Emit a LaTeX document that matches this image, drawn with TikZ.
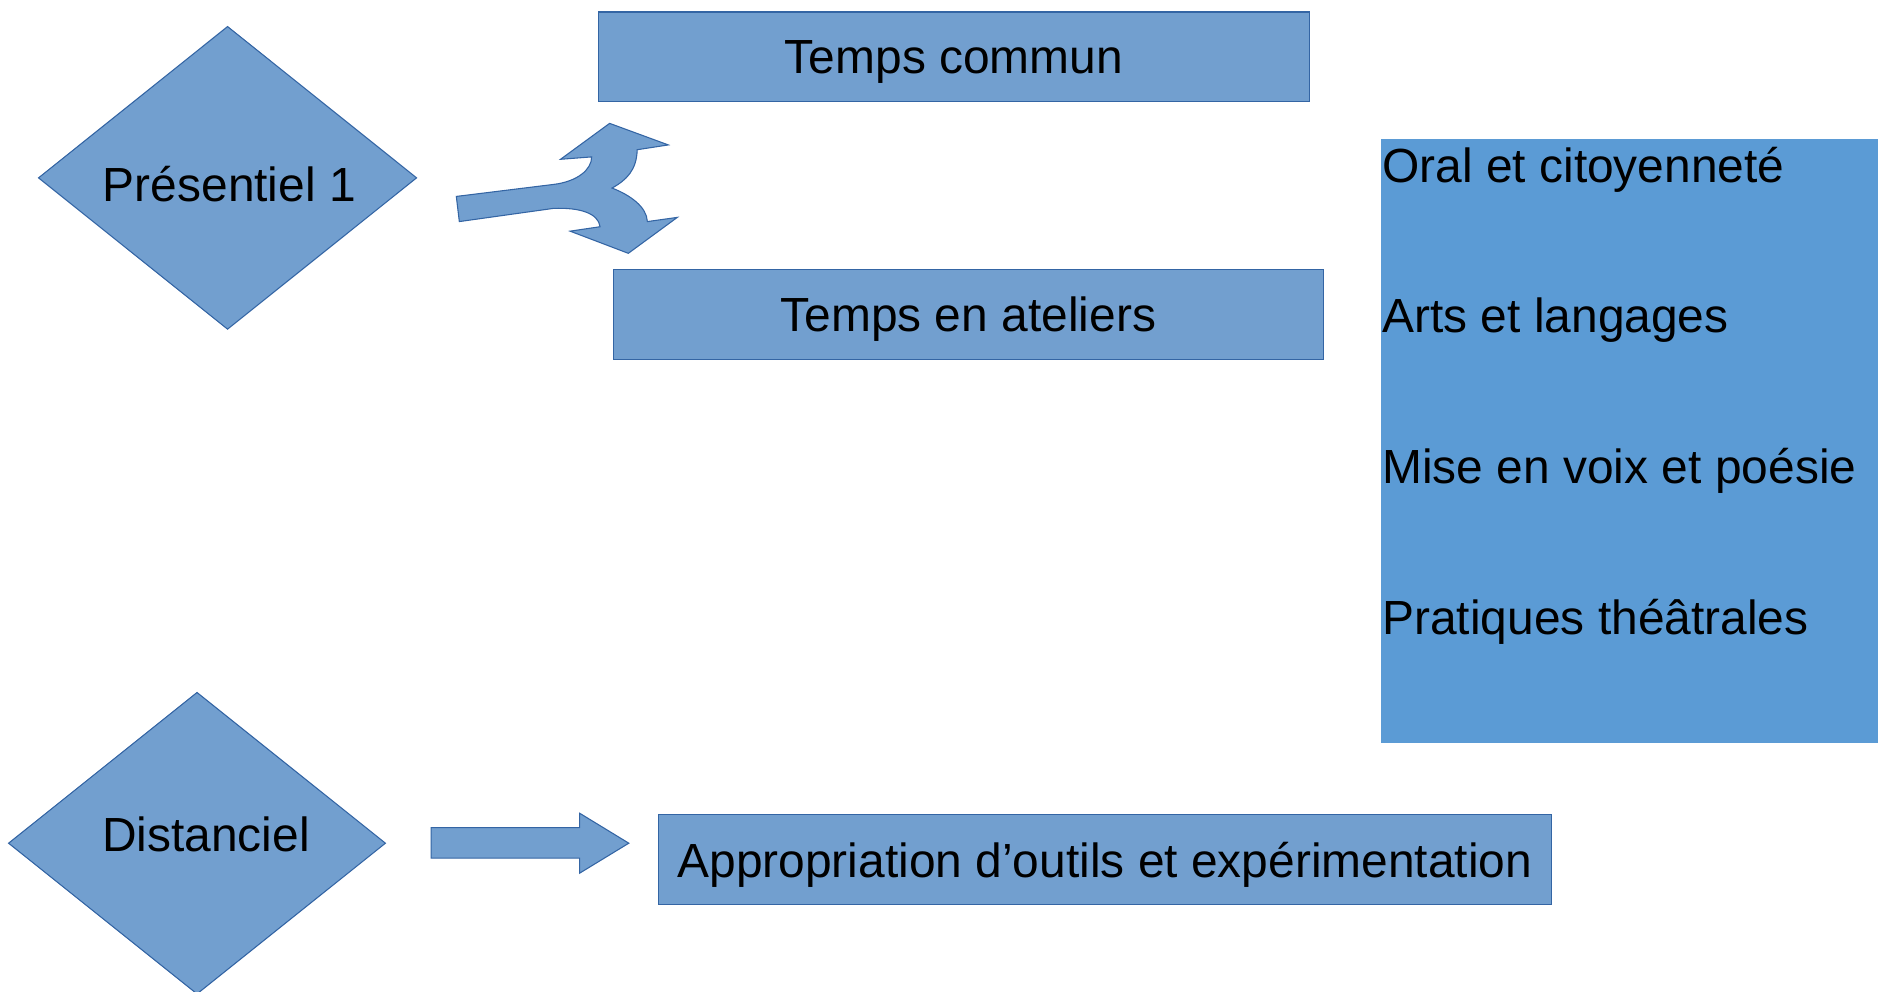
\documentclass[tikz,border=0pt]{standalone}
\usepackage{fontspec}
\setmainfont{Liberation Sans}
\usetikzlibrary{shapes.geometric}
\definecolor{boxblue}{HTML}{729FCF}
\definecolor{boxline}{HTML}{3465A4}
\definecolor{listblue}{HTML}{5B9BD5}
\tikzstyle{every node}=[font=\fontsize{40}{48}\selectfont, inner sep=0]
\tikzstyle{bloc}=[rectangle, fill=boxblue, draw=boxline, line width=0.9pt, minimum height=75, text depth=0pt]
\tikzstyle{losange}=[diamond, fill=boxblue, draw=boxline, line width=0.9pt]
\tikzstyle{fleche}=[fill=boxblue, draw=boxline, line width=0.9pt, line join=miter]

\begin{document}
\begin{tikzpicture}[x=1pt, y=-1pt]
	\useasboundingbox (0,0) rectangle (1568,828);

	% presentiel
	\node[losange, minimum width=316, minimum height=253] (pres) at (190,148.5) {};
	\node[anchor=base] (presT) at (191.5,168) {Présentiel 1};

	\node[bloc, minimum width=593] (commun) at (796.5,47.5) {Temps commun};
	\node[bloc, minimum width=593] (atel) at (808.5,262.5) {Temps en ateliers};

	\draw[fleche] (381,164) -- (462,154)
		.. controls (481.5,151.7) and (494,141.9) .. (494,131)
		-- (468,133) -- (509,103) -- (558,121) -- (532,125)
		.. controls (531.6,141.9) and (523.2,150.3) .. (511,157)
		.. controls (526,162.8) and (540,172.6) .. (540.5,185)
		-- (565.5,181.5) -- (524.6,211.5) -- (476,193) -- (501,189.3)
		.. controls (499.6,178.1) and (484.3,173.1) .. (462,174)
		-- (383.5,185) -- cycle;

	% liste des ateliers
	\node[rectangle, fill=listblue, minimum width=420, minimum height=504, anchor=north west] (liste) at (1153,116) {};
	\foreach \t [count=\i] in {Oral et citoyenneté, Arts et langages, Mise en voix et poésie, Pratiques théâtrales} {
		\node[anchor=base west] (item\i) at (1154,26+126*\i) {\t};
	}

	% distanciel
	\node[losange, minimum width=315, minimum height=252] (dist) at (164.5,704) {};
	\node[anchor=base] (distT) at (172,711) {Distanciel};

	\draw[fleche] (360,691) -- (484,691) -- (484,679) -- (525,704)
		-- (484,729) -- (484,716.5) -- (360,716.5) -- cycle;

	\node[bloc, minimum width=745] (outils) at (922.5,717.5) {Appropriation d’outils et expérimentation};
\end{tikzpicture}
\end{document}
